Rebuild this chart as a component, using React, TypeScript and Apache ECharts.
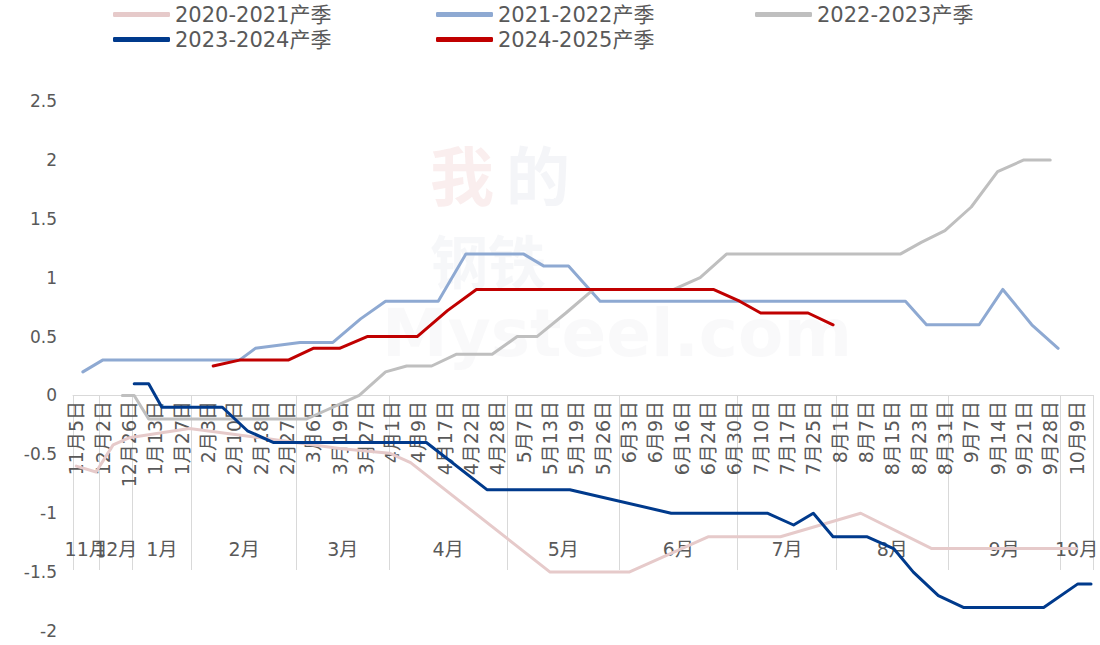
import React, { useEffect, useRef } from "react";
import * as echarts from "echarts";

const dateLabels = [
  "11月5日", "12月2日", "12月26日", "1月13日", "1月27日", "2月3日", "2月10日", "2月18日", "2月27日",
  "3月6日", "3月19日", "3月27日", "4月1日", "4月9日", "4月17日", "4月22日", "4月28日", "5月7日",
  "5月13日", "5月19日", "5月26日", "6月3日", "6月9日", "6月16日", "6月24日", "6月30日", "7月10日",
  "7月17日", "7月25日", "8月1日", "8月7日", "8月15日", "8月23日", "8月31日", "9月7日", "9月14日",
  "9月21日", "9月28日", "10月9日",
];
const monthNames = ["11月", "12月", "1月", "2月", "3月", "4月", "5月", "6月", "7月", "8月", "9月", "10月"];
const monthCenters = [0.375, 1.5, 3.25, 6.375, 10.125, 14.125, 18.5, 22.875, 27, 31, 35.25, 38];
const monthBounds = [-0.125, 0.875, 2.125, 4.375, 8.375, 11.875, 16.375, 20.625, 25.125, 28.875, 33.125, 37.375, 38.625];

const seriesNames = ["2020-2021产季", "2021-2022产季", "2022-2023产季", "2023-2024产季", "2024-2025产季"];

const s2020: [number, number][] = [
  [0, -0.6], [0.75, -0.65], [1.4, -0.42], [2, -0.36], [4.3, -0.28], [7, -0.36], [10, -0.45], [11.9, -0.49],
  [12.7, -0.57], [18, -1.5], [21, -1.5], [24, -1.2], [26.75, -1.2], [29.8, -1.0], [32.5, -1.3], [38, -1.3],
];
const s2021: [number, number][] = [
  [0.25, 0.2], [1, 0.3], [6.2, 0.3], [6.8, 0.4], [8.5, 0.45], [9.75, 0.45], [10.8, 0.65], [11.75, 0.8],
  [13.75, 0.8], [14.8, 1.2], [17, 1.2], [17.75, 1.1], [18.7, 1.1], [19.9, 0.8], [31.5, 0.8], [32.3, 0.6],
  [34.3, 0.6], [35.2, 0.9], [36.3, 0.6], [37.3, 0.4],
];
const s2022: [number, number][] = [
  [1.75, 0], [2.2, 0], [2.75, -0.2], [8.75, -0.2], [10.75, 0], [11.75, 0.2], [12.55, 0.25], [13.5, 0.25],
  [14.45, 0.35], [15.8, 0.35], [16.75, 0.5], [17.5, 0.5], [18.6, 0.7], [19.65, 0.9], [22.7, 0.9], [23.7, 1.0],
  [24.7, 1.2], [31.3, 1.2], [32.1, 1.3], [33, 1.4], [34, 1.6], [35, 1.9], [36, 2.0], [37, 2.0],
];
const s2023: [number, number][] = [
  [2.2, 0.1], [2.75, 0.1], [3.25, -0.1], [5.55, -0.1], [6.5, -0.3], [7.5, -0.4], [13.3, -0.4], [15.6, -0.8],
  [18.75, -0.8], [22.6, -1.0], [26.25, -1.0], [27.25, -1.1], [28, -1.0], [28.75, -1.2], [30.05, -1.2],
  [31.05, -1.3], [31.8, -1.5], [32.75, -1.7], [33.7, -1.8], [36.75, -1.8], [38.05, -1.6], [38.55, -1.6],
];
const s2024: [number, number][] = [
  [5.2, 0.25], [6.2, 0.3], [8.05, 0.3], [9, 0.4], [10, 0.4], [11.05, 0.5], [12.95, 0.5], [14.1, 0.72],
  [15.2, 0.9], [24.2, 0.9], [25.2, 0.8], [26, 0.7], [27.8, 0.7], [28.75, 0.6],
];

const seriesData = [s2020, s2021, s2022, s2023, s2024];
const colors = ["#E6CACA", "#8EA9D2", "#BFBFBF", "#003A8C", "#C00000"];

const FONT = "'DejaVu Sans', 'Noto Sans CJK SC', sans-serif";
const TEXT = "#595959";
const GRIDC = "#d9d9d9";

// grid geometry: y from -2 (bottom, 631px) to 2.5 (top, 101px); zero line at 395px
const GRID_TOP = 101;
const GRID_BOTTOM_PX = 631;
const ZERO_PX = 395;
const AXIS_SHIFT = -(GRID_BOTTOM_PX - ZERO_PX);
const X_MIN = -0.125;
const X_MAX = 38.625;

export default function App() {
  const ref = useRef<HTMLDivElement>(null);
  useEffect(() => {
    if (!ref.current) return;
    const chart = echarts.init(ref.current, null, { renderer: "svg" });
    const legendPos = [
      [113, 4], [436, 4], [755, 4], [113, 29], [436, 29],
    ];
    // a leading blank value keeps ECharts' min-label overlap check away from 11月/12月
    const monthLabelValues = [X_MIN, ...monthCenters];
    const option: any = {
      animation: false,
      backgroundColor: "#ffffff",
      textStyle: { fontFamily: FONT },
      legend: seriesNames.map((n, i) => ({
        data: [n],
        left: legendPos[i][0],
        top: legendPos[i][1],
        padding: 0,
        icon: "roundRect",
        itemWidth: 57,
        itemHeight: 5,
        selectedMode: false,
        textStyle: { fontSize: 21, color: TEXT, fontFamily: FONT },
      })),
      grid: {
        left: 73, right: 7, top: GRID_TOP, bottom: 645 - GRID_BOTTOM_PX,
        containLabel: false, outerBoundsMode: "none",
      },
      xAxis: [
        {
          type: "value",
          min: X_MIN,
          max: X_MAX,
          position: "bottom",
          offset: AXIS_SHIFT,
          axisLine: { show: true, onZero: false, lineStyle: { color: GRIDC, width: 1 } },
          axisTick: { show: true, customValues: monthBounds, length: 175, lineStyle: { color: GRIDC, width: 1 } },
          axisLabel: {
            customValues: dateLabels.map((_, i) => i),
            rotate: 90,
            margin: 6,
            fontSize: 19,
            color: TEXT,
            fontFamily: FONT,
            hideOverlap: false,
            formatter: (v: number) => dateLabels[Math.round(v)] ?? "",
          },
          splitLine: { show: false },
        },
        {
          type: "value",
          min: X_MIN,
          max: X_MAX,
          position: "bottom",
          offset: AXIS_SHIFT,
          axisLine: { show: false, onZero: false },
          axisTick: { show: false },
          axisLabel: {
            customValues: monthLabelValues,
            margin: 144,
            fontSize: 19,
            color: TEXT,
            fontFamily: FONT,
            hideOverlap: false,
            showMinLabel: false,
            showMaxLabel: true,
            formatter: (v: number) => {
              const idx = monthCenters.findIndex((c) => Math.abs(c - v) < 1e-6);
              return idx >= 0 ? monthNames[idx] : "";
            },
          },
          splitLine: { show: false },
        },
      ],
      yAxis: {
        type: "value",
        min: -2,
        max: 2.5,
        interval: 0.5,
        axisLine: { show: false, onZero: false },
        axisTick: { show: false },
        splitLine: { show: false },
        axisLabel: { fontSize: 17, color: TEXT, margin: 16, fontFamily: FONT },
      },
      graphic: [
        { type: "text", left: 430, top: 140, silent: true, style: { text: "我", fontSize: 64, fontWeight: "bold", fill: "rgba(192,40,40,0.08)", fontFamily: "'Noto Sans CJK SC'" } },
        { type: "text", left: 506, top: 140, silent: true, style: { text: "的", fontSize: 64, fontWeight: "bold", fill: "rgba(70,90,130,0.06)", fontFamily: "'Noto Sans CJK SC'" } },
        { type: "text", left: 430, top: 230, silent: true, style: { text: "钢铁", fontSize: 58, fontWeight: "bold", fill: "rgba(70,90,130,0.05)", fontFamily: "'Noto Sans CJK SC'" } },
        { type: "text", left: 382, top: 300, silent: true, style: { text: "Mysteel.com", fontSize: 66, fontWeight: "bold", fill: "rgba(90,100,120,0.04)", fontFamily: "'DejaVu Sans'" } },
      ],
      series: seriesNames.map((n, i) => ({
        name: n,
        type: "line",
        xAxisIndex: 0,
        yAxisIndex: 0,
        data: seriesData[i],
        showSymbol: false,
        symbol: "none",
        color: colors[i],
        lineStyle: { width: 3, color: colors[i], cap: "round", join: "round" },
        z: 2 + i,
      })),
    };
    chart.setOption(option);
    return () => chart.dispose();
  }, []);
  return <div ref={ref} style={{ position: "fixed", left: 0, top: 0, width: 1100, height: 645 }} />;
}
